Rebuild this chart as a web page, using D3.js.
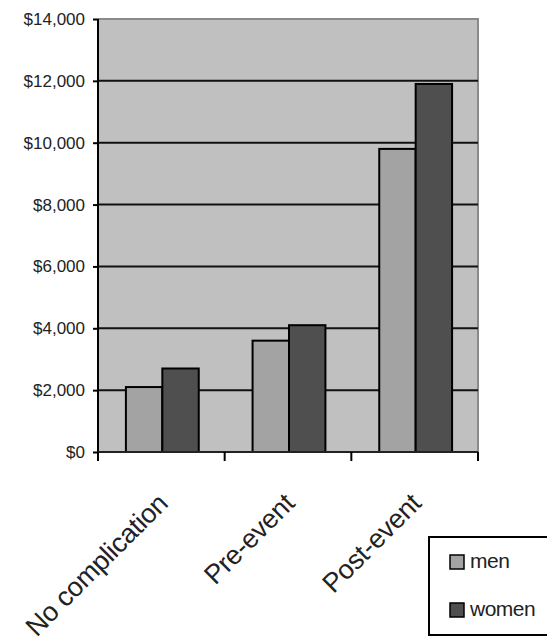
<!DOCTYPE html>
<html>
<head>
<meta charset="utf-8">
<script src="https://cdn.jsdelivr.net/npm/d3@7"></script>
<style>
  html, body { margin: 0; padding: 0; background: #fff; }
  svg { display: block; font-family: "Liberation Sans", Arial, sans-serif; }
</style>
</head>
<body>
<svg id="chart" width="547" height="644"></svg>
<script>
const categories = ["No complication", "Pre-event", "Post-event"];
const seriesNames = ["men", "women"];
const menValues = [2100, 3600, 9800];
const womenValues = [2700, 4100, 11900];
const yTickValues = [0, 2000, 4000, 6000, 8000, 10000, 12000, 14000];
const seriesColors = ["#a3a3a3", "#4f4f4f"];

(function () {
const svg = d3.select("#chart");
const mLeft = 98, mRight = 478, mTop = 19, mBottom = 452;

const x0 = d3.scaleBand().domain(categories).range([mLeft, mRight]).padding(0);
const groupW = x0.bandwidth() * 0.575;
const x1 = d3.scaleBand().domain(seriesNames).range([0, groupW]).padding(0);
const y = d3.scaleLinear().domain([0, 14000]).range([mBottom, mTop]);
const color = d3.scaleOrdinal().domain(seriesNames).range(seriesColors);

// plot background
svg.append("rect")
  .attr("x", mLeft).attr("y", mTop)
  .attr("width", mRight - mLeft).attr("height", mBottom - mTop)
  .attr("fill", "#c0c0c0");

// top and right border (gray)
svg.append("path")
  .attr("d", `M${mLeft},${mTop}H${mRight}V${mBottom}`)
  .attr("fill", "none").attr("stroke", "#8a8a8a").attr("stroke-width", 2);

// gridlines
svg.append("g").selectAll("line")
  .data(yTickValues.filter(d => d > 0 && d < 14000))
  .join("line")
  .attr("x1", mLeft).attr("x2", mRight)
  .attr("y1", d => y(d)).attr("y2", d => y(d))
  .attr("stroke", "#111").attr("stroke-width", 2);

// bars
const series = [menValues, womenValues];
const groups = svg.append("g").selectAll("g")
  .data(categories)
  .join("g")
  .attr("transform", d => `translate(${x0(d) + (x0.bandwidth() - groupW) / 2 + 1},0)`);

groups.selectAll("rect")
  .data((d, i) => seriesNames.map((s, j) => ({ s, v: series[j][i] })))
  .join("rect")
  .attr("x", d => x1(d.s))
  .attr("y", d => y(d.v))
  .attr("width", x1.bandwidth())
  .attr("height", d => y(0) - y(d.v))
  .attr("fill", d => color(d.s))
  .attr("stroke", "#000").attr("stroke-width", 2);

// y axis
const yAxis = d3.axisLeft(y)
  .tickValues(yTickValues)
  .tickSize(5)
  .tickPadding(8)
  .tickFormat(d => "$" + d3.format(",")(d));
const yg = svg.append("g").attr("transform", `translate(${mLeft},0)`).call(yAxis);
yg.select(".domain").attr("stroke", "#000").attr("stroke-width", 2)
  .attr("d", `M0,${mTop}V${mBottom + 9}`);
yg.selectAll(".tick line").attr("stroke", "#000").attr("stroke-width", 2);
yg.selectAll(".tick text")
  .attr("font-size", 17).attr("fill", "#222")
  .attr("font-family", "'Liberation Sans', Arial, sans-serif");

// x axis
const boundaries = [mLeft].concat(categories.map(c => x0(c) + x0.bandwidth()));
const xg = svg.append("g");
xg.append("line")
  .attr("x1", mLeft).attr("x2", mRight)
  .attr("y1", mBottom).attr("y2", mBottom)
  .attr("stroke", "#222").attr("stroke-width", 2);
xg.selectAll("line.tk")
  .data(boundaries)
  .join("line").attr("class", "tk")
  .attr("x1", d => d).attr("x2", d => d)
  .attr("y1", mBottom).attr("y2", mBottom + 9)
  .attr("stroke", "#000").attr("stroke-width", 2);

xg.selectAll("text")
  .data(categories)
  .join("text")
  .attr("transform", d => `translate(${x0(d) + x0.bandwidth() / 2 + 8},${mBottom + 53}) rotate(-45)`)
  .attr("text-anchor", "end")
  .attr("font-size", 27)
  .attr("fill", "#222")
  .style("letter-spacing", "-0.3px")
  .text(d => d);

// legend
const lg = svg.append("g");
lg.append("rect")
  .attr("x", 429).attr("y", 537)
  .attr("width", 130).attr("height", 98)
  .attr("fill", "#fff").attr("stroke", "#000").attr("stroke-width", 2);
const items = lg.selectAll("g.item")
  .data(seriesNames)
  .join("g").attr("class", "item")
  .attr("transform", (d, i) => `translate(450,${555 + i * 48})`);
items.append("rect")
  .attr("width", 14).attr("height", 14)
  .attr("fill", d => color(d))
  .attr("stroke", "#000").attr("stroke-width", 1.5);
items.append("text")
  .attr("x", 20).attr("y", 13)
  .attr("font-size", 21)
  .attr("fill", "#222")
  .style("letter-spacing", "-0.5px")
  .text(d => d);
})();
</script>
</body>
</html>
